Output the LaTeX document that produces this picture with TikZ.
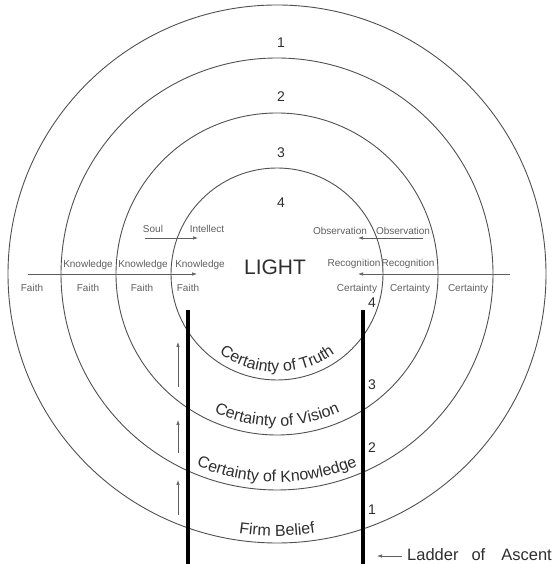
\documentclass[tikz,border=0pt]{standalone}
\usepackage{fontspec}
\setmainfont{Liberation Sans}
\usetikzlibrary{arrows.meta, decorations.text}
\definecolor{ringgray}{HTML}{505050}
\definecolor{labelgray}{HTML}{5E5E5E}
\definecolor{inkdark}{HTML}{2E2E2E}

\begin{document}
\begin{tikzpicture}[x=1pt, y=1pt,
  ring/.style={ringgray, line width=0.9pt},
  rung/.style={black, line width=3.2pt},
  tip/.style={-{Latex[length=5pt, width=3.5pt]}, labelgray, line width=0.7pt},
  small/.style={font=\fontsize{10}{12}\selectfont, text=labelgray, inner sep=0pt},
  num/.style={font=\fontsize{14}{16}\selectfont, text=inkdark, inner sep=0pt}]
  % page is 553 x 564, one unit = one pixel, y grows upwards
  \useasboundingbox (0,0) rectangle (553,564);
  \coordinate (c) at (277,290);

  % the four rings, outside in
  \foreach \r in {269,216,161,106}{
    \draw[ring] (c) circle[radius=\r];
  }

  % ring numbers at the top
  \foreach \n/\yc in {1/521, 2/467, 3/411, 4/361}{
    \node[num] (top\n) at (281,\yc) {\n};
  }

  % left half: faith rising to knowledge
  \foreach \xc [count=\i] in {32,88,142,188}{
    \node[small] (faith\i) at (\xc,276) {Faith};
  }
  \foreach \xc [count=\i] in {88,143,200}{
    \node[small] (know\i) at (\xc,299) {Knowledge};
  }
  \node[small] (soul) at (153,335) {Soul};
  \node[small] (intellect) at (207,335) {Intellect};

  % right half: recognition and observation
  \foreach \xc [count=\i] in {357,410,468}{
    \node[small] (cert\i) at (\xc,275) {Certainty};
  }
  \foreach \xc [count=\i] in {354,408}{
    \node[small] (recog\i) at (\xc,300) {Recognition};
  }
  \foreach \xc [count=\i] in {340,403}{
    \node[small] (obs\i) at (\xc,333) {Observation};
  }

  \node[font=\fontsize{21}{24}\selectfont, text=inkdark, inner sep=0pt]
    (light) at (275,297) {LIGHT};

  % horizontal arrows towards the light
  \coordinate (faithtail) at (28,290);
  \coordinate (faithhead) at (197,290);
  \coordinate (certtail) at (510,290);
  \coordinate (certhead) at (358,290);
  \coordinate (soultail) at (145,326);
  \coordinate (soulhead) at (198,326);
  \coordinate (obstail) at (423,326);
  \coordinate (obshead) at (358,326);
  \draw[tip] (faithtail) -- (faithhead);
  \draw[tip] (certtail) -- (certhead);
  \draw[tip] (soultail) -- (soulhead);
  \draw[tip] (obstail) -- (obshead);

  % the ladder
  \coordinate (railLtop) at (188,254);
  \coordinate (railLbot) at (188,0);
  \coordinate (railRtop) at (363,254);
  \coordinate (railRbot) at (363,0);
  \draw[rung] (railLtop) -- (railLbot);
  \draw[rung] (railRtop) -- (railRbot);

  % small arrows beside the left rail
  \foreach \yl/\yh [count=\i] in {49/84, 111/144, 177/222}{
    \coordinate (upL\i) at (178,\yl);
    \coordinate (upH\i) at (178,\yh);
    \draw[tip] (upL\i) -- (upH\i);
  }

  % steps on the right rail
  \foreach \n/\yc in {1/54, 2/116, 3/179, 4/261}{
    \node[num] (step\n) at (372,\yc) {\n};
  }

  % names of the rings, bent along the bottom
  \path[decorate, decoration={text along path, text align=center,
      text color=inkdark, text={|\fontsize{16}{19}\selectfont|Certainty of Truth}}]
    ([shift={(200:98)}]c) arc[start angle=200, end angle=340, radius=98];
  \path[decorate, decoration={text along path, text align=center,
      text color=inkdark, text={|\fontsize{16}{19}\selectfont|Certainty of Vision}}]
    ([shift={(200:152)}]c) arc[start angle=200, end angle=340, radius=152];
  \path[decorate, decoration={text along path, text align=center,
      text color=inkdark, text={|\fontsize{16}{19}\selectfont|Certainty of Knowledge}}]
    ([shift={(200:208)}]c) arc[start angle=200, end angle=340, radius=208];
  \path[decorate, decoration={text along path, text align=center,
      text color=inkdark, text={|\fontsize{16}{19}\selectfont|Firm Belief}}]
    ([shift={(200:262)}]c) arc[start angle=200, end angle=340, radius=262];

  % caption at the foot
  \coordinate (laddertail) at (402,8);
  \coordinate (ladderhead) at (377,8);
  \draw[tip] (laddertail) -- (ladderhead);
  \node[anchor=west, inner sep=0pt, font=\fontsize{16.5}{19}\selectfont, text=inkdark]
    (ladder) at (407,9) {Ladder\hspace{13pt}of\hspace{16pt}Ascent};
\end{tikzpicture}
\end{document}
